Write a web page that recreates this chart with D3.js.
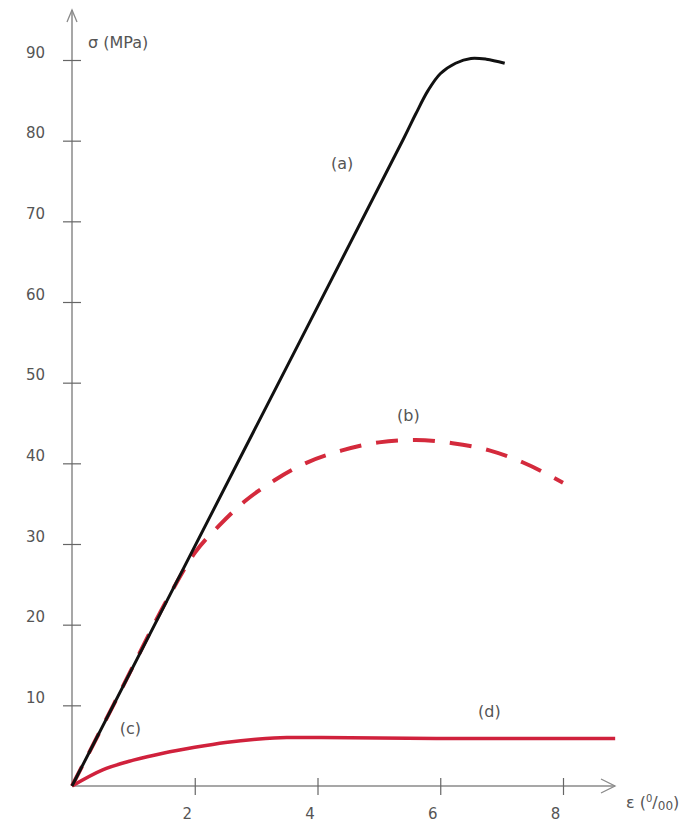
<!DOCTYPE html>
<html>
<head>
<meta charset="utf-8">
<script src="https://cdn.jsdelivr.net/npm/d3@7"></script>
<style>
  html, body { margin: 0; padding: 0; background: #fff; }
  svg { display: block; }
  text { font-family: "DejaVu Sans", sans-serif; fill: #555; }
</style>
</head>
<body>
<svg id="chart" width="698" height="829"></svg>
<script>
// ---- data ----
const xTicks = [2, 4, 6, 8];
const yTicks = [10, 20, 30, 40, 50, 60, 70, 80, 90];

// curve (a): strain [‰], stress [MPa]
const aStrain = [0, 2.7, 5.4, 5.6, 5.8, 6.0, 6.25, 6.5, 6.75, 7.05];
const aStress = [0, 40.1, 80.2, 83.3, 86.2, 88.3, 89.6, 90.2, 90.1, 89.6];

// curve (b)
const bStrain = [0, 0.8, 1.6, 2.0, 2.4, 2.8, 3.3, 3.8, 4.4, 5.0, 5.6, 6.2, 6.8, 7.35, 8.0];
const bStress = [0, 11.9, 23.8, 28.9, 32.3, 35.2, 37.9, 40.0, 41.6, 42.6, 42.9, 42.5, 41.6, 40.1, 37.6];

// curve (c)/(d)
const cStrain = [0, 0.5, 1.0, 1.5, 2.0, 2.5, 3.0, 3.5, 4.0, 6.0, 8.85];
const cStress = [0, 2.0, 3.2, 4.1, 4.8, 5.4, 5.8, 6.0, 6.0, 5.9, 5.9];

const curveLabels = ["(a)", "(b)", "(c)", "(d)"];
const labelX = [4.4, 5.48, 0.95, 6.8];
const labelY = [76.5, 45.3, 6.4, 8.6];

// ---- drawing ----
const svg = d3.select("#chart");
const x = d3.scaleLinear().domain([0, 8]).range([72, 563]);
const y = d3.scaleLinear().domain([0, 90]).range([786, 60]);

const axisColor = "#8a8a8a";

// axis lines
svg.append("line").attr("x1", x(0)).attr("y1", y(0)).attr("x2", x(0)).attr("y2", 10)
  .attr("stroke", axisColor).attr("stroke-width", 1.5);
svg.append("line").attr("x1", x(0)).attr("y1", y(0)).attr("x2", 615).attr("y2", y(0))
  .attr("stroke", axisColor).attr("stroke-width", 1.5);
// arrowheads
svg.append("path").attr("d", `M${x(0) - 5},22 L${x(0)},10 L${x(0) + 5},22`)
  .attr("fill", "none").attr("stroke", axisColor).attr("stroke-width", 1.3);
svg.append("path").attr("d", `M601,${y(0) - 7} L615,${y(0)} L601,${y(0) + 7}`)
  .attr("fill", "none").attr("stroke", axisColor).attr("stroke-width", 1.3);

// y axis ticks
const yAxis = svg.append("g").attr("transform", `translate(${x(0)},0)`)
  .call(d3.axisLeft(y).tickValues(yTicks).tickSize(10).tickPadding(0));
yAxis.select(".domain").remove();
yAxis.selectAll(".tick line").attr("x1", -9).attr("x2", 9)
  .attr("stroke", "#666").attr("stroke-width", 1.2);
yAxis.selectAll(".tick text").attr("x", -27).attr("dy", "-0.2em")
  .attr("font-size", 15).style("fill", "#555")
  .style("font-family", "DejaVu Sans, sans-serif");

// x axis ticks
const xAxis = svg.append("g").attr("transform", `translate(0,${y(0)})`)
  .call(d3.axisBottom(x).tickValues(xTicks).tickSize(8).tickPadding(0));
xAxis.select(".domain").remove();
xAxis.selectAll(".tick line").attr("y1", -8).attr("y2", 9)
  .attr("stroke", "#666").attr("stroke-width", 1.2);
xAxis.selectAll(".tick text").attr("x", -8).attr("y", 22)
  .attr("font-size", 15).style("fill", "#555")
  .style("font-family", "DejaVu Sans, sans-serif");

// axis titles
svg.append("text").attr("x", 88).attr("y", 48).attr("font-size", 16).text("σ (MPa)");
const xt = svg.append("text").attr("x", 626).attr("y", 808).attr("font-size", 16);
xt.append("tspan").text("ε (");
xt.append("tspan").attr("font-size", 10).attr("dy", -6).text("0");
xt.append("tspan").attr("dy", 6).text("/");
xt.append("tspan").attr("font-size", 12).attr("dy", 2).text("00");
xt.append("tspan").attr("dy", -2).text(")");

const line = d3.line().x(d => x(d[0])).y(d => y(d[1])).curve(d3.curveMonotoneX);
const lineA = d3.line().x(d => x(d[0])).y(d => y(d[1])).curve(d3.curveCatmullRom.alpha(0.5));

// curve (c)/(d) red solid
svg.append("path").datum(cStrain.map((v, i) => [v, cStress[i]]))
  .attr("d", line).attr("fill", "none").attr("stroke", "#d0213c").attr("stroke-width", 3.5);

// curve (b) red dashed
svg.append("path").datum(bStrain.map((v, i) => [v, bStress[i]]))
  .attr("d", line).attr("fill", "none").attr("stroke", "#d42a3c").attr("stroke-width", 4)
  .attr("stroke-dasharray", "22,15");

// curve (a) black
svg.append("path").datum(aStrain.map((v, i) => [v, aStress[i]]))
  .attr("d", lineA).attr("fill", "none").attr("stroke", "#111").attr("stroke-width", 3);

// curve labels
svg.selectAll("text.lbl").data(curveLabels).enter().append("text")
  .attr("class", "lbl")
  .attr("x", (d, i) => x(labelX[i])).attr("y", (d, i) => y(labelY[i]))
  .attr("text-anchor", "middle").attr("font-size", 16).text(d => d);
</script>
</body>
</html>
